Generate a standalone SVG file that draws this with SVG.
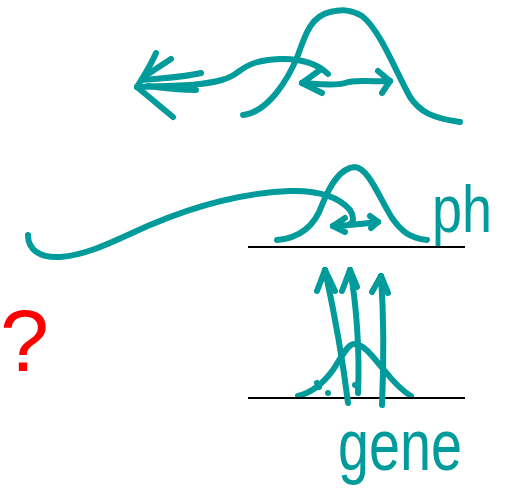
<svg xmlns="http://www.w3.org/2000/svg" width="508" height="496" viewBox="0 0 508 496">
<style>
.s{fill:none;stroke:#009b9a;stroke-width:6;stroke-linecap:round;stroke-linejoin:round}
.b{stroke:#000;stroke-width:2}
.hand{font-family:"Liberation Sans","DejaVu Sans",sans-serif;fill:#009b9a}
</style>
<rect width="508" height="496" fill="#fff"/>
<g id="top-bell">
<path class="s" d="M243,115 C268,112 288,80 298,55 C306,32 312,16 330,12 C343,9 352,10 362,16 C380,30 395,70 410,97 C420,112 432,118 460,122"/>
</g>
<g id="mid-bell">
<path class="s" d="M277,240 C300,238 315,225 322,205 C330,185 340,168 355,167 C368,168 378,195 392,218 C402,232 410,238 427,240"/>
</g>
<g id="bottom-bell">
<path class="s" d="M298,396 C310,393 322,385 333,370 C342,356 348,344 354,344 C364,344 372,356 384,370 C396,385 404,392 411,396"/>
<path class="s" d="M317,383 L319,387" stroke-width="3"/>
<path class="s" d="M328,393 L328,393" stroke-width="3"/>
<path class="s" d="M355,385 L355,385" stroke-width="3"/>
</g>
<g id="lines">
<line class="b" x1="248" y1="247" x2="465" y2="247"/>
<line class="b" x1="248" y1="398" x2="465" y2="398"/>
</g>
<g id="connectors">
<path class="s" d="M137,87 C160,86 185,86 200,84 C215,82 228,80 238,72 C250,63 260,60 280,59 C300,58 318,64 328,74"/>
<path class="s" d="M137,87 L173,117"/>
<path class="s" d="M137,87 C143,77 150,67 156,53"/>
<path class="s" d="M145,76 L171,59"/>
<path class="s" d="M142,80 C165,78 185,77 201,73"/>
<path class="s" d="M148,86 C170,89 185,90 196,90"/>
<path class="s" d="M302,83 C320,84 335,86 345,83 C355,79 365,82 390,81"/>
<path class="s" d="M302,83 L320,70"/>
<path class="s" d="M302,83 L322,93"/>
<path class="s" d="M390,81 L378,71"/>
<path class="s" d="M390,81 L382,93"/>
<path class="s" d="M28,235 C28,250 40,258 60,257 C90,255 120,238 150,225 C190,208 240,193 290,191 C320,190 340,198 350,210 C354,216 354,222 350,224"/>
<path class="s" d="M333,226 C345,226 360,224 378,222"/>
<path class="s" d="M333,226 L345,218"/>
<path class="s" d="M333,226 L345,232"/>
<path class="s" d="M378,222 L370,216"/>
<path class="s" d="M378,222 L371,228"/>
<path class="s" d="M348,403 C344,370 338,330 325,270"/>
<path class="s" d="M325,270 L317,291"/>
<path class="s" d="M325,270 L335,291"/>
<path class="s" d="M358,393 C360,350 356,300 350,270"/>
<path class="s" d="M350,270 L342,291"/>
<path class="s" d="M350,270 L357,287"/>
<path class="s" d="M382,405 C384,360 384,320 381,276"/>
<path class="s" d="M381,276 L372,292"/>
<path class="s" d="M381,276 L388,293"/>
</g>
<g id="labels">
<text class="hand" x="432" y="232" font-size="66" textLength="60" lengthAdjust="spacingAndGlyphs">ph</text>
<text class="hand" x="338" y="470" font-size="72" textLength="124" lengthAdjust="spacingAndGlyphs">gene</text>
<text x="0" y="371" font-family="Liberation Sans, Arial, sans-serif" font-size="88" fill="#ff0000">?</text>
</g>
</svg>
